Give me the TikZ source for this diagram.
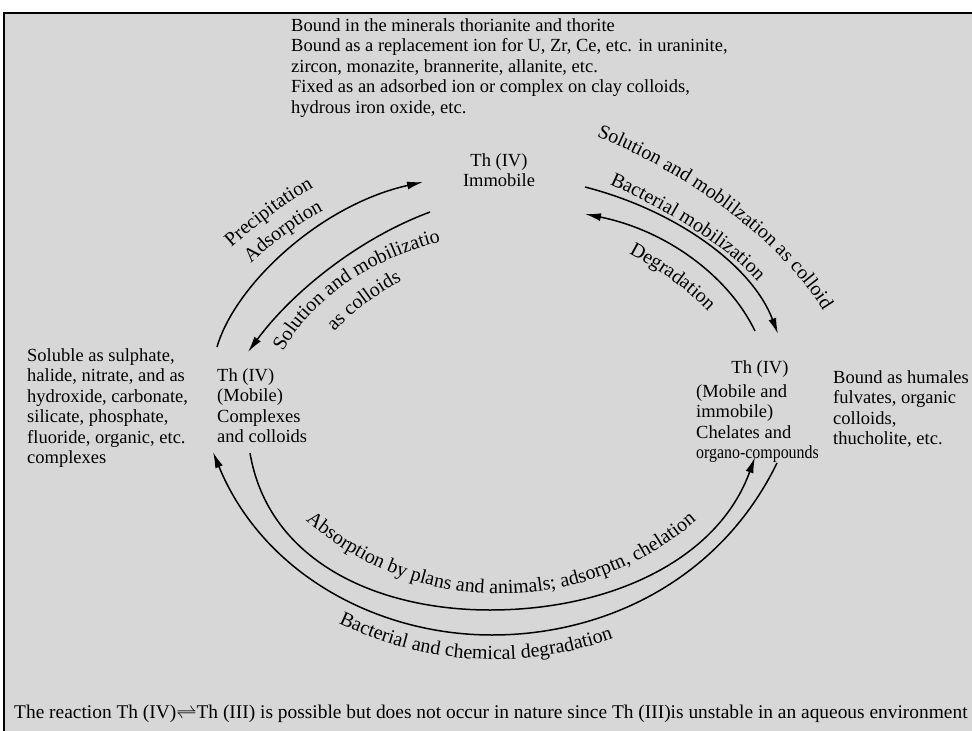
\documentclass[tikz,border=0pt]{standalone}
\usepackage{fontspec}
\setmainfont{Liberation Serif}
\usetikzlibrary{arrows.meta,decorations.text}
\definecolor{panel}{RGB}{215,215,215}
\newcommand\lblfont{\fontsize{18.5}{20.5}\selectfont}
\newcommand\arcfont{\fontsize{20}{22}\selectfont}
\begin{document}
\begin{tikzpicture}[x=1pt,y=-1pt,
  txt/.style={font=\lblfont, inner sep=0pt, align=left, anchor=north west},
  ctxt/.style={font=\lblfont, inner sep=0pt, align=center, anchor=north},
  cyc/.style={line width=1.5pt, -{Latex[length=16pt,width=8pt]}},
  lab/.style={decorate, decoration={text along path, text align=center, text={|\arcfont|#1}}}
]
\useasboundingbox (0,0) rectangle (972,731);
\fill[white] (0,0) rectangle (972,731);
\draw[fill=panel, line width=2pt] (4,13) rectangle (990,750);

% text blocks
\node[txt] (top) at (291,18) {Bound in the minerals thorianite and thorite\\
Bound as a replacement ion for U, Zr, Ce, etc. in uraninite,\\
zircon, monazite, brannerite, allanite, etc.\\
Fixed as an adsorbed ion or complex on clay colloids,\\
hydrous iron oxide, etc.};
\node[ctxt] (thtop) at (499,153) {Th (IV)\\Immobile};
\node[txt] (thleft) at (217,368) {Th (IV)\\(Mobile)\\Complexes\\and colloids};
\node[txt] (soluble) at (27,348) {Soluble as sulphate,\\halide, nitrate, and as\\hydroxide, carbonate,\\silicate, phosphate,\\fluoride, organic, etc.\\complexes};
\node[ctxt] (thright) at (760,360) {Th (IV)};
\node[txt] (chel) at (696,384) {(Mobile and\\immobile)\\Chelates and\\\scalebox{0.86}[1]{organo-compounds}};
\node[txt] (humal) at (833,370) {Bound as humales\\fulvates, organic\\colloids,\\thucholite, etc.};
\node[txt, font=\fontsize{19.4}{21}\selectfont] (note) at (14,705) {The reaction Th (IV)$\rightleftharpoons$Th (III) is possible but does not occur in nature since Th (III)is unstable in an aqueous environment};

% arc end points
\coordinate (a1s) at (217,347); \coordinate (a1e) at (423,182);
\coordinate (a2s) at (430,212); \coordinate (a2e) at (248,352);
\coordinate (a3s) at (585,187); \coordinate (a3e) at (778,334);
\coordinate (a4s) at (755,331); \coordinate (a4e) at (585,214);
\coordinate (a5s) at (250,453); \coordinate (a5m) at (490,610); \coordinate (a5e) at (755,457);
\coordinate (a6s) at (777,463); \coordinate (a6m) at (492,635); \coordinate (a6e) at (213,452);

\draw[cyc] (a1s) .. controls (235,285) and (320,205) .. (a1e);
\draw[cyc] (a2s) .. controls (355,240) and (290,295) .. (a2e);
\draw[cyc] (a3s) .. controls (675,210) and (752,265) .. (a3e);
\draw[cyc] (a4s) .. controls (728,275) and (665,230) .. (a4e);
\draw[cyc] (a5s) .. controls (268,560) and (375,610) .. (a5m) .. controls (610,610) and (718,560) .. (a5e);
\draw[cyc] (a6s) .. controls (720,580) and (605,635) .. (a6m) .. controls (375,635) and (262,572) .. (a6e);

% labels along arcs
\path[lab={Precipitation}] (222,256) .. controls (250,230) and (285,202) .. (325,181);
\path[lab={Adsorption}] (244,270) .. controls (268,246) and (295,225) .. (332,206);
\path[lab={Solution and mobilizatio}] (278,362) .. controls (303,306) and (365,258) .. (452,239);
\path[lab={as colloids}] (329,338) .. controls (349,315) and (374,295) .. (409,277);
\path[lab={Solution and moblilzation as colloid}] (584,131) .. controls (693,174) and (790,248) .. (830,322);
\path[lab={Bacterial mobilization}] (602,181) .. controls (673,212) and (736,253) .. (763,288);
\path[lab={Degradation}] (616,247) .. controls (655,266) and (690,290) .. (718,322);
\path[lab={Absorption by plans and animals; adsorptn, chelation}] (298,514) .. controls (414,620) and (586,621) .. (704,514);
\path[lab={Bacterial and chemical degradation}] (334,621) .. controls (428,667) and (525,671) .. (618,637);
\end{tikzpicture}
\end{document}
